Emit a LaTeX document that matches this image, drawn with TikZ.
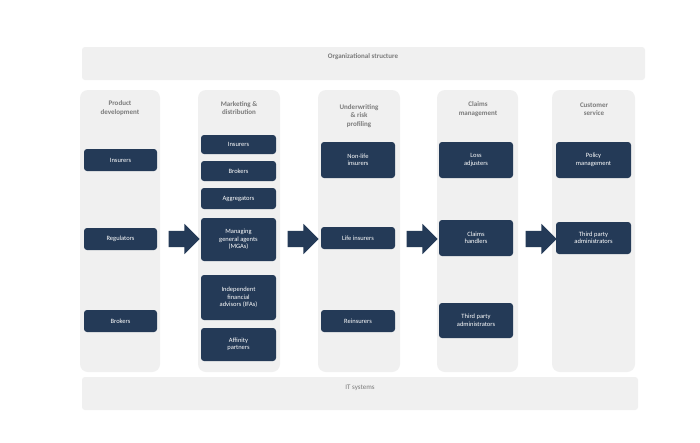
\documentclass[tikz,border=0pt]{standalone}
\usepackage{fontspec}
\setmainfont{Carlito}
\usetikzlibrary{shapes.arrows}
\definecolor{navy}{HTML}{243A57}
\definecolor{panel}{HTML}{F0F0F0}
\definecolor{hdr}{HTML}{7A7A7A}
\begin{document}
\begin{tikzpicture}[x=1pt,y=-1pt,
  col/.style={fill=panel,draw=none,rounded corners=8pt},
  bar/.style={fill=panel,draw=none,rounded corners=3pt},
  box/.style={fill=navy,draw=none,rounded corners=3pt,text=white,font=\fontsize{6.5}{7.5}\selectfont,align=center},
  head/.style={text=hdr,font=\bfseries\fontsize{7}{8.5}\selectfont,align=center},
  arr/.style={single arrow,fill=navy,draw=none,minimum width=30pt,single arrow head extend=7pt,minimum height=31pt,inner xsep=0pt,inner ysep=8pt,text height=0pt,text depth=0pt,single arrow head indent=0pt}]
\useasboundingbox (0,0) rectangle (700,442);
\fill[white] (0,0) rectangle (700,442);
\fill[bar] (82,47) rectangle (645,80);
\node[head] (org) at (363,57) {Organizational structure};
\fill[bar] (82,377) rectangle (638,410);
\node[head,font=\fontsize{7}{8.5}\selectfont] (it) at (360,388) {IT systems};
\fill[col] (80,90) rectangle (160,372);
\fill[col] (198,90) rectangle (280,372);
\fill[col] (318,90) rectangle (400,372);
\fill[col] (437,90) rectangle (518,372);
\fill[col] (552,90) rectangle (635,372);
\node[head] (h1) at (120,108) {Product\\development};
\node[head] (h2) at (239,108) {Marketing \&\\distribution};
\node[head] (h3) at (359,116) {Underwriting\\\& risk\\profiling};
\node[head] (h4) at (478,109) {Claims\\management};
\node[head] (h5) at (594,109) {Customer\\service};
\newcommand{\bx}[6]{\node[box,minimum width=#3-#2,minimum height=#5-#4,inner sep=1pt] (#1) at ({(#2+#3)/2},{(#4+#5)/2}) {#6};}
\bx{a1}{84}{157}{149}{171}{Insurers}
\bx{a2}{84}{157}{228}{250}{Regulators}
\bx{a3}{84}{157}{310}{332}{Brokers}
\bx{b1}{201}{276}{135}{154}{Insurers}
\bx{b2}{201}{276}{161}{181}{Brokers}
\bx{b3}{201}{276}{188}{209}{Aggregators}
\bx{b4}{201}{276}{218}{261}{Managing\\general agents\\(MGAs)}
\bx{b5}{201}{276}{275}{320}{Independent\\financial\\advisors (IFAs)}
\bx{b6}{201}{276}{328}{361}{Affinity\\partners}
\bx{c1}{321}{395}{142}{178}{Non-life\\insurers}
\bx{c2}{321}{395}{227}{249}{Life insurers}
\bx{c3}{321}{395}{310}{332}{Reinsurers}
\bx{d1}{439}{513}{142}{178}{Loss\\adjusters}
\bx{d2}{439}{513}{220}{256}{Claims\\handlers}
\bx{d3}{439}{513}{303}{338}{Third party\\administrators}
\bx{e1}{556}{631}{142}{178}{Policy\\management}
\bx{e2}{556}{631}{222}{254}{Third party\\administrators}
\node[arr] (r1) at (180,239) {};
\node[arr] (r2) at (299,239) {};
\node[arr] (r3) at (418,239) {};
\node[arr] (r4) at (537,239) {};
\end{tikzpicture}
\end{document}
